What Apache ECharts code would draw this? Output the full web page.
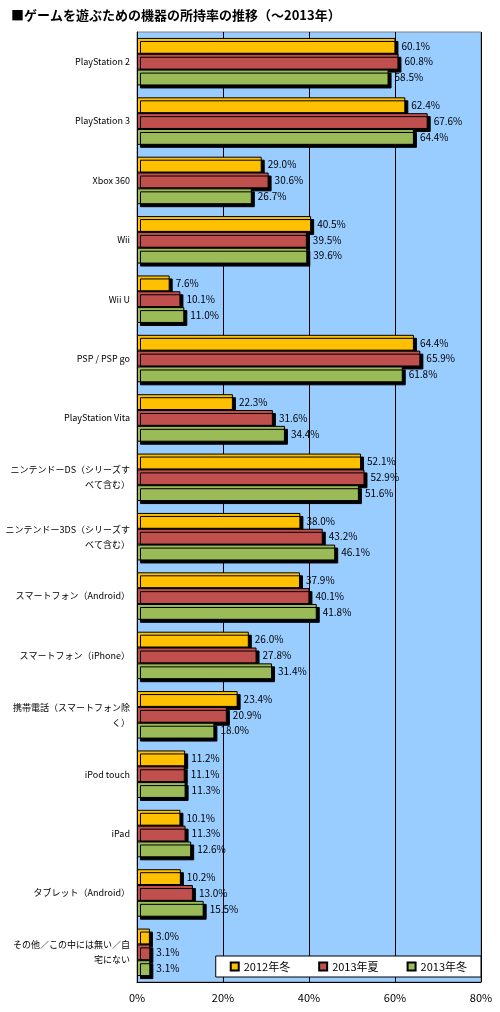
<!DOCTYPE html>
<html><head><meta charset="utf-8">
<script src="https://cdn.jsdelivr.net/npm/echarts@6/dist/echarts.min.js"></script>
<style>html,body{margin:0;padding:0;background:#fff}#c{width:500px;height:1012px}</style>
</head><body><div id="c"></div>
<script>
const categories = ['PlayStation 2', 'PlayStation 3', 'Xbox 360', 'Wii', 'Wii U', 'PSP / PSP go', 'PlayStation Vita',
    'ニンテンドーDS（シリーズす\nべて含む）', 'ニンテンドー3DS（シリーズす\nべて含む）', 'スマートフォン（Android）',
    'スマートフォン（iPhone）', '携帯電話（スマートフォン除\nく）', 'iPod touch', 'iPad', 'タブレット（Android）',
    'その他／この中には無い／自\n宅にない'];
const seriesNames = ['2012年冬', '2013年夏', '2013年冬'];
const winter2012 = [60.1, 62.4, 29.0, 40.5, 7.6, 64.4, 22.3, 52.1, 38.0, 37.9, 26.0, 23.4, 11.2, 10.1, 10.2, 3.0];
const summer2013 = [60.8, 67.6, 30.6, 39.5, 10.1, 65.9, 31.6, 52.9, 43.2, 40.1, 27.8, 20.9, 11.1, 11.3, 13.0, 3.1];
const winter2013 = [58.5, 64.4, 26.7, 39.6, 11.0, 61.8, 34.4, 51.6, 46.1, 41.8, 31.4, 18.0, 11.3, 12.6, 15.5, 3.1];
const colors = ['#ffc000', '#c0504d', '#9bbb59'];

const chart = echarts.init(document.getElementById('c'));
const font = '"Noto Sans CJK JP", sans-serif';
chart.setOption({
    animation: false,
    title: {
        text: '■ゲームを遊ぶための機器の所持率の推移（～2013年）',
        left: 6, top: 4,
        textStyle: { fontSize: 13, fontWeight: 'bold', fontFamily: font, color: '#000' }
    },
    legend: {
        data: seriesNames, orient: 'horizontal',
        right: 19, bottom: 35, width: 268,
        itemWidth: 8, itemHeight: 8, itemGap: 28, icon: 'rect',
        backgroundColor: '#fff', borderColor: '#000', borderWidth: 1,
        padding: [5, 14],
        textStyle: { fontSize: 11, fontFamily: font, color: '#000' }
    },
    grid: { left: 137, right: 19, top: 32, bottom: 30, containLabel: false, outerBoundsMode: 'none',
        show: true, backgroundColor: '#99ccff', borderColor: '#808080', borderWidth: 1 },
    xAxis: {
        type: 'value', min: 0, max: 80, interval: 20,
        axisLabel: { formatter: '{value}%', fontSize: 11, fontFamily: font, color: '#000', margin: 10 },
        splitLine: { lineStyle: { color: '#000', width: 1 } },
        axisLine: { show: true, lineStyle: { color: '#000' } }, axisTick: { show: false }
    },
    yAxis: {
        type: 'category', data: categories, inverse: true,
        axisLabel: { fontSize: 9, fontFamily: font, color: '#000', margin: 7, lineHeight: 15 },
        axisLine: { show: true, lineStyle: { color: '#000' } }, axisTick: { show: false }
    },
    series: [winter2012, summer2013, winter2013].map((d, i) => ({
        name: seriesNames[i], type: 'bar', data: d,
        barGap: '0%', barCategoryGap: '20%',
        itemStyle: { color: colors[i], borderColor: '#000', borderWidth: 1,
            shadowColor: '#000', shadowOffsetX: 3, shadowOffsetY: 3, shadowBlur: 0 },
        label: { show: true, position: 'right', distance: 6, formatter: p => p.value.toFixed(1) + '%',
            fontSize: 10, fontFamily: font, color: '#000' }
    }))
});
</script></body></html>
